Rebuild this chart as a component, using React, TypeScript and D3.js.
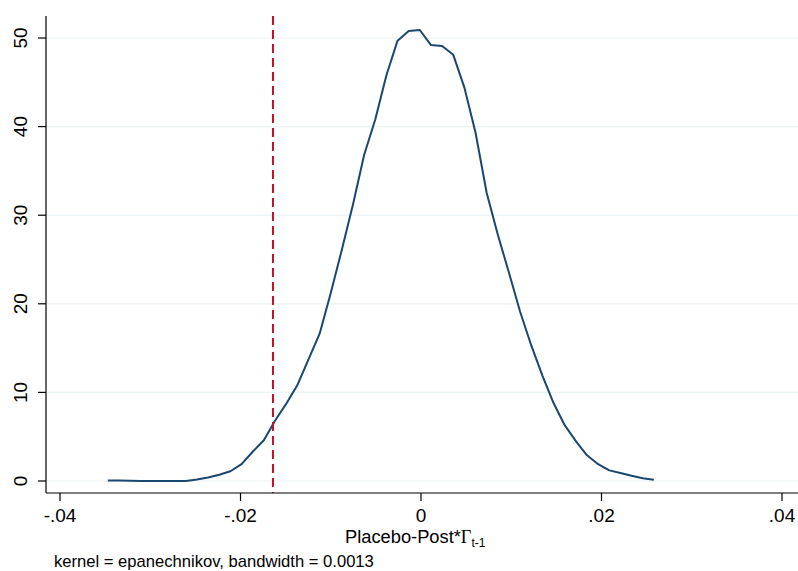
import React from "react";
import * as d3 from "d3";

const densityX: number[] = Array.from({ length: 50 }, (_, i) => -0.0347 + i * (0.0605 / 49));
const densityY: number[] = [
  0.05, 0.05, 0.04, 0.0, 0.0, 0.0, 0.0, 0.0, 0.17, 0.4,
  0.7, 1.1, 1.9, 3.3, 4.6, 6.8, 8.7, 10.8, 13.7, 16.6,
  21.2, 26.1, 31.2, 36.8, 40.8, 45.8, 49.7, 50.8, 50.9, 49.2,
  49.1, 48.1, 44.4, 39.3, 32.5, 27.8, 23.5, 19.1, 15.3, 11.9,
  8.8, 6.3, 4.5, 2.9, 1.9, 1.2, 0.9, 0.6, 0.3, 0.15,
];
const xTicks: number[] = [-0.04, -0.02, 0, 0.02, 0.04];
const xTickLabels: string[] = ["-.04", "-.02", "0", ".02", ".04"];
const yTicks: number[] = [0, 10, 20, 30, 40, 50];
const refLine: number = -0.0164;
const noteText = "kernel = epanechnikov, bandwidth = 0.0013";

export default function App() {
  const W = 798, H = 571;
  const left = 46, top = 16, bottom = 493, right = 798;
  const x = d3.scaleLinear().domain([-0.04, 0.04]).range([60, 782]);
  const y = d3.scaleLinear().domain([0, 50]).range([481, 38]);
  const line = d3.line<number>().x((_, i) => x(densityX[i])).y((d) => y(d));
  const font = "'Liberation Sans', Arial, sans-serif";
  return (
    <svg width={W} height={H} style={{ position: "absolute", left: 0, top: 0, background: "#fff" }}>
      <rect x={0} y={0} width={W} height={H} fill="#fff" />
      {yTicks.map((t) => (
        <line key={"g" + t} x1={left} x2={right} y1={y(t)} y2={y(t)} stroke="#eaf2f3" strokeWidth={1.2} />
      ))}
      <path d={line(densityY) || ""} fill="none" stroke="#1a476f" strokeWidth={2} strokeLinejoin="round" />
      <line x1={x(refLine)} x2={x(refLine)} y1={top} y2={bottom} stroke="#c8102e" strokeWidth={2} strokeDasharray="9,5" />
      <line x1={left} x2={left} y1={top} y2={bottom} stroke="#000" strokeWidth={1.2} />
      <line x1={left} x2={right} y1={bottom} y2={bottom} stroke="#000" strokeWidth={1.2} />
      {yTicks.map((t) => (
        <g key={"y" + t}>
          <line x1={38} x2={left} y1={y(t)} y2={y(t)} stroke="#000" strokeWidth={1.2} />
          <text
            transform={`translate(27,${y(t)}) rotate(-90)`}
            textAnchor="middle"
            fontFamily={font}
            fontSize={19}
            fill="#000"
          >
            {t}
          </text>
        </g>
      ))}
      {xTicks.map((t, i) => (
        <g key={"x" + t}>
          <line x1={x(t)} x2={x(t)} y1={bottom} y2={501} stroke="#000" strokeWidth={1.2} />
          <text x={x(t)} y={522} textAnchor="middle" fontFamily={font} fontSize={19} fill="#000">
            {xTickLabels[i]}
          </text>
        </g>
      ))}
      <text x={345} y={543} fontFamily={font} fontSize={18.3} fill="#000">
        Placebo-Post*
        <tspan fontFamily="'Liberation Serif', 'Times New Roman', serif" fontSize={18.3}>Γ</tspan>
        <tspan fontSize={12} dy={4}>t-1</tspan>
      </text>
      <text x={54} y={567} fontFamily={font} fontSize={16.6} fill="#000">
        {noteText}
      </text>
    </svg>
  );
}
